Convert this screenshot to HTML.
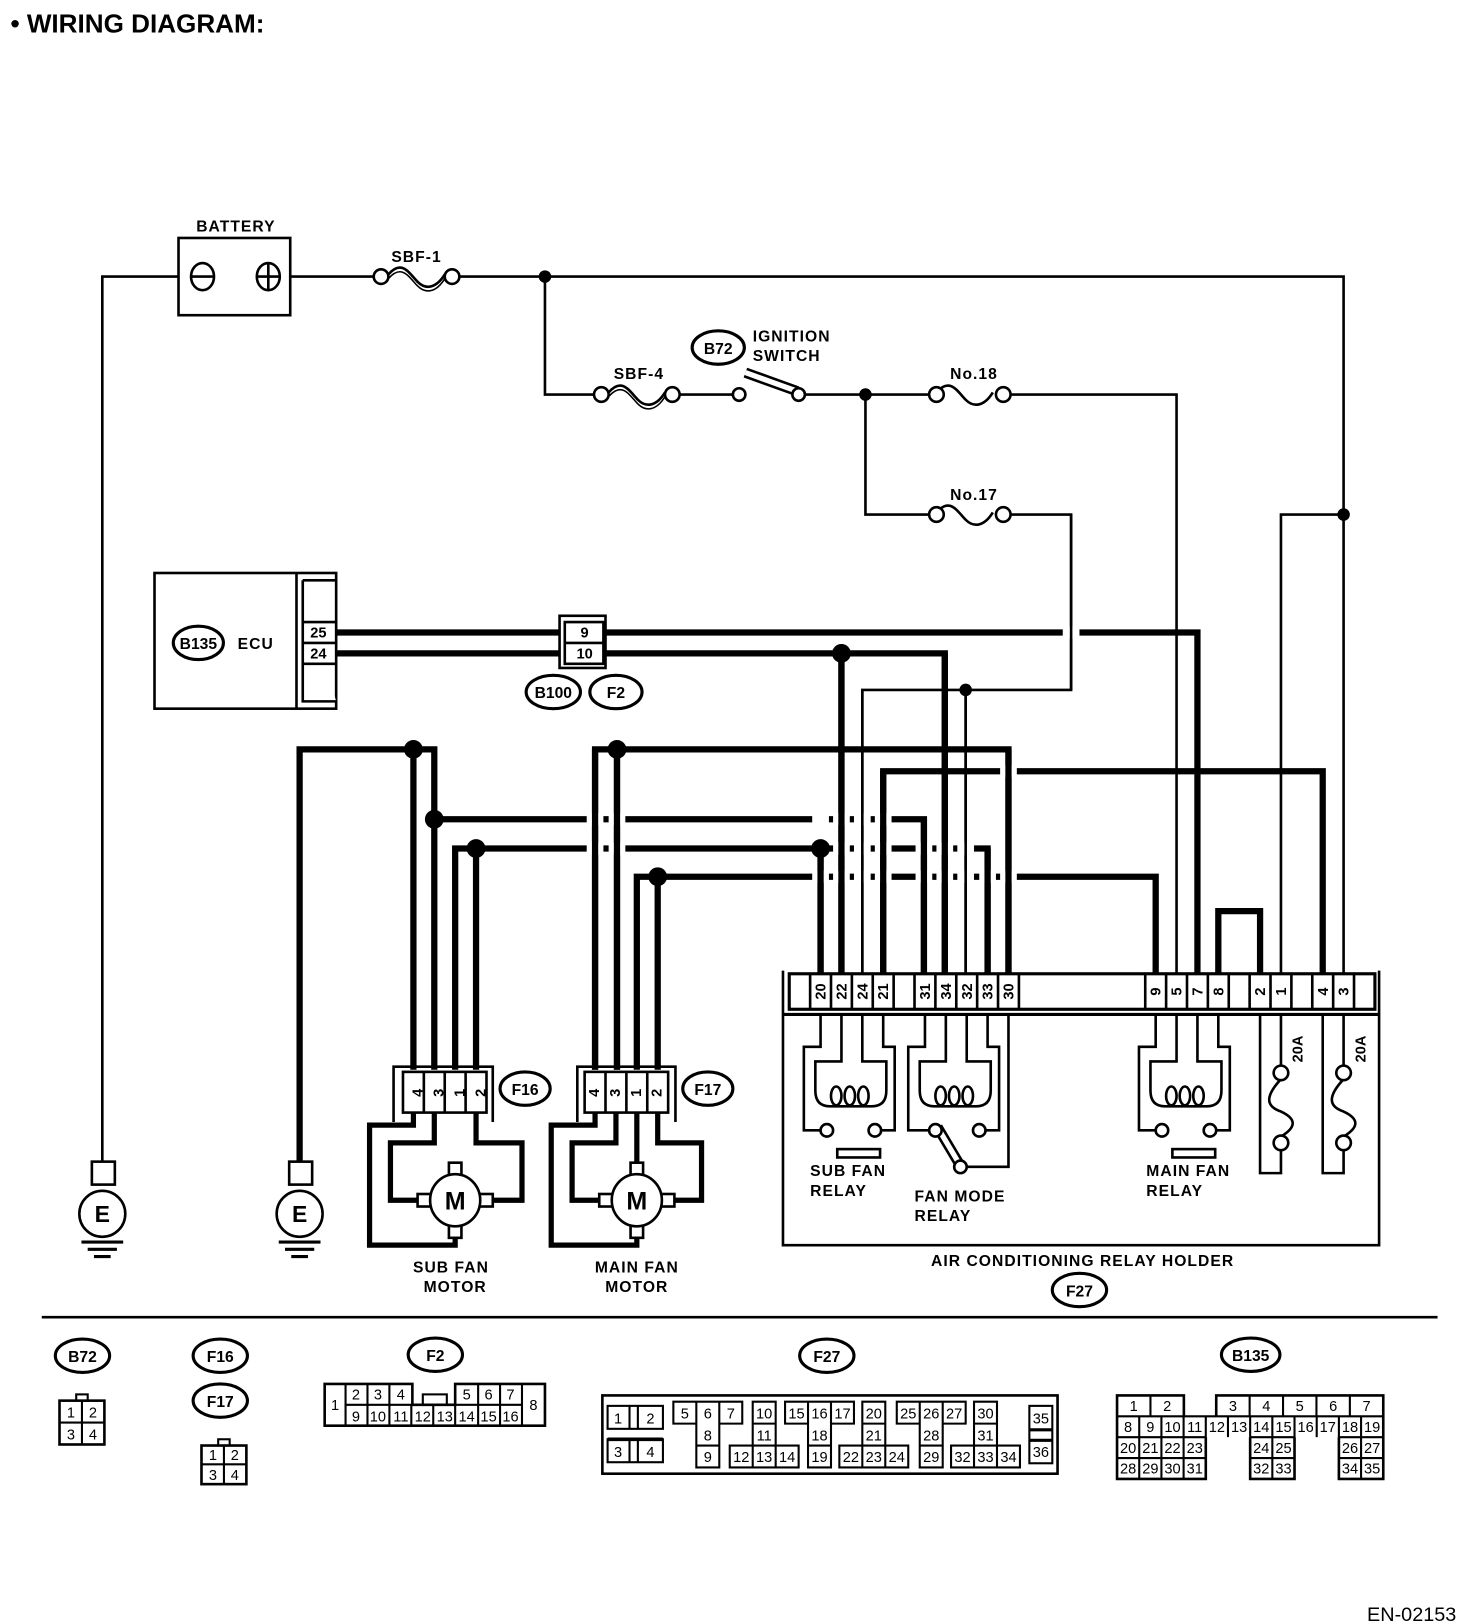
<!DOCTYPE html>
<html><head><meta charset="utf-8"><style>
html,body{margin:0;padding:0;background:#fff;}
svg{display:block;}
text{font-family:"Liberation Sans",sans-serif;fill:#000;}
.b{font-weight:bold;}
.lbl{font-weight:bold;font-size:15px;letter-spacing:1px;}
.pn{font-size:14px;font-weight:bold;}
.cn{font-size:14px;}
</style></head><body>
<svg width="1472" height="1624" viewBox="0 0 1410 1556" preserveAspectRatio="none" xmlns="http://www.w3.org/2000/svg">
<g fill="none" stroke="#000" stroke-linejoin="miter">
<g stroke-width="2.5">
<path d="M171 265 H98 V1113"/>
<path d="M278 265 H358 M440 265 H1287 V933"/>
<path d="M522 265 V378 H576 M651 378 H702 M771 378 H890 M968 378 H1127 V933"/>
<path d="M829 378 V493 H890 M968 493 H1026 V661 H826 V933 M925 661 V933"/>
<path d="M1287 493 H1227 V933"/>
</g>
<g stroke-width="6">
<path d="M322 606 H1147 V933"/>
<path d="M322 626 H905 V933 M806 626 V933"/>
<path d="M287 1113 V718 H416 V1025 M396 718 V1025"/>
<path d="M416 785 H885 V933"/>
<path d="M436 1025 V813 H946 V933 M456 813 V1025 M786 813 V933"/>
<path d="M570 1025 V718 H966 V933 M591 718 V1025"/>
<path d="M610 1025 V840 H1107 V933 M630 840 V1025"/>
<path d="M846 933 V739 H1267 V933"/>
<path d="M1167 933 V873 H1207 V933"/>
</g>
</g>
<g fill="#fff">
<rect x="1018" y="600" width="16" height="12"/>
<rect x="562" y="779" width="16" height="12"/><rect x="583" y="779" width="16" height="12"/>
<rect x="778" y="779" width="16" height="12"/><rect x="798" y="779" width="16" height="12"/><rect x="818" y="779" width="16" height="12"/><rect x="838" y="779" width="16" height="12"/>
<rect x="562" y="807" width="16" height="12"/><rect x="583" y="807" width="16" height="12"/>
<rect x="798" y="807" width="16" height="12"/><rect x="818" y="807" width="16" height="12"/><rect x="838" y="807" width="16" height="12"/><rect x="877" y="807" width="16" height="12"/><rect x="897" y="807" width="16" height="12"/><rect x="917" y="807" width="16" height="12"/>
<rect x="778" y="834" width="16" height="12"/><rect x="798" y="834" width="16" height="12"/><rect x="818" y="834" width="16" height="12"/><rect x="838" y="834" width="16" height="12"/><rect x="877" y="834" width="16" height="12"/><rect x="897" y="834" width="16" height="12"/><rect x="917" y="834" width="16" height="12"/><rect x="938" y="834" width="16" height="12"/><rect x="958" y="834" width="16" height="12"/>
<rect x="958" y="733" width="16" height="12"/>
</g>
<g fill="none" stroke="#000">
<path stroke-width="2.5" d="M1026 493 V661 M826 661 V933 M925 661 V933"/>
<path stroke-width="6" d="M570 718 V1025 M591 718 V1025 M786 813 V933 M806 626 V933 M846 739 V933 M885 785 V933 M905 626 V933 M946 813 V933 M966 718 V933"/>
</g>
<g fill="#000">
<circle cx="522" cy="265" r="6"/><circle cx="829" cy="378" r="6"/><circle cx="1287" cy="493" r="6"/><circle cx="925" cy="661" r="6"/>
<circle cx="806" cy="626" r="9"/><circle cx="396" cy="718" r="9"/><circle cx="416" cy="785" r="9"/><circle cx="456" cy="813" r="9"/><circle cx="786" cy="813" r="9"/><circle cx="591" cy="718" r="9"/><circle cx="630" cy="840" r="9"/>
</g>
<text x="10" y="31" class="b" font-size="25">•  WIRING DIAGRAM:</text>
<text x="1395" y="1553" text-anchor="end" font-size="19">EN-02153</text>
<g fill="none" stroke="#000" stroke-width="2.5">
<rect x="171" y="228" width="107" height="74"/>
<ellipse cx="194" cy="265" rx="11" ry="13"/><path d="M183 265 H205"/>
<ellipse cx="257" cy="265" rx="11" ry="13"/><path d="M246 265 H268 M257 252 V278"/>
</g>
<text x="226" y="222" text-anchor="middle" class="lbl" font-size="14">BATTERY</text>
<g fill="#fff" stroke="#000" stroke-width="2.5">
<path d="M372 263 C385 248 392 262 400 270 C408 278 418 276 426 263" fill="none"/>
<path d="M372 267 C385 252 392 266 400 274 C408 282 418 280 426 267" fill="none" stroke-width="1.5"/>
<circle cx="365" cy="265" r="7"/><circle cx="433" cy="265" r="7"/>
<path d="M583 376 C596 361 603 375 611 383 C619 391 629 389 637 376" fill="none"/>
<path d="M583 380 C596 365 603 379 611 387 C619 395 629 393 637 380" fill="none" stroke-width="1.5"/>
<circle cx="576" cy="378" r="7"/><circle cx="644" cy="378" r="7"/>
<path d="M897 376 C910 361 917 375 925 383 C933 391 943 389 951 376" fill="none"/>
<circle cx="897" cy="378" r="7"/><circle cx="961" cy="378" r="7"/>
<path d="M897 491 C910 476 917 490 925 498 C933 506 943 504 951 491" fill="none"/>
<circle cx="897" cy="493" r="7"/><circle cx="961" cy="493" r="7"/>
</g>
<line x1="714" y1="357" x2="764" y2="375" stroke="#000" stroke-width="10"/>
<line x1="714" y1="357" x2="764" y2="375" stroke="#fff" stroke-width="5"/>
<circle cx="708" cy="378" r="6" fill="#fff" stroke="#000" stroke-width="2.5"/>
<circle cx="765" cy="378" r="6" fill="#fff" stroke="#000" stroke-width="2.5"/>
<text x="399" y="251" text-anchor="middle" class="lbl">SBF-1</text>
<text x="612" y="363" text-anchor="middle" class="lbl">SBF-4</text>
<text x="933" y="363" text-anchor="middle" class="lbl">No.18</text>
<text x="933" y="479" text-anchor="middle" class="lbl">No.17</text>
<ellipse cx="688" cy="333" rx="25" ry="16" fill="none" stroke="#000" stroke-width="3"/>
<text x="688" y="339" text-anchor="middle" class="b" font-size="15">B72</text>
<text x="721" y="327" class="lbl">IGNITION</text>
<text x="721" y="346" class="lbl">SWITCH</text>
<g fill="#fff" stroke="#000" stroke-width="2.5">
<rect x="148" y="549" width="174" height="130"/>
<path d="M284 549 V679 M290 556 H322 M290 556 V672 H322 M290 596 H322 M290 616 H322 M290 636 H322"/>
<rect x="536" y="590" width="44" height="50" stroke-width="2.5"/>
<path d="M541 596 H578 V636 H541 Z M541 616 H578"/>
</g>
<text x="305" y="611" text-anchor="middle" class="pn">25</text>
<text x="305" y="631" text-anchor="middle" class="pn">24</text>
<text x="560" y="611" text-anchor="middle" class="pn">9</text>
<text x="560" y="631" text-anchor="middle" class="pn">10</text>
<ellipse cx="190" cy="616" rx="24" ry="16" fill="none" stroke="#000" stroke-width="3"/>
<text x="190" y="622" text-anchor="middle" class="b" font-size="15">B135</text>
<text x="245" y="622" text-anchor="middle" class="lbl">ECU</text>
<ellipse cx="530" cy="663" rx="26" ry="16" fill="none" stroke="#000" stroke-width="3"/>
<text x="530" y="669" text-anchor="middle" class="b" font-size="15">B100</text>
<ellipse cx="590" cy="663" rx="25" ry="16" fill="none" stroke="#000" stroke-width="3"/>
<text x="590" y="669" text-anchor="middle" class="b" font-size="15">F2</text>
<g fill="none" stroke="#000" stroke-width="2.5">
<rect x="88" y="1113" width="22" height="22"/><circle cx="98" cy="1163" r="22"/>
<path d="M78 1190 H118 M84 1197 H112 M90 1204 H106" stroke-width="3"/>
<rect x="277" y="1113" width="22" height="22"/><circle cx="287" cy="1163" r="22"/>
<path d="M267 1190 H307 M273 1197 H301 M279 1204 H295" stroke-width="3"/>
</g>
<text x="98" y="1171" text-anchor="middle" class="b" font-size="22">E</text>
<text x="287" y="1171" text-anchor="middle" class="b" font-size="22">E</text>
<g fill="#fff" stroke="#000" stroke-width="2.5">
<path d="M377 1075 V1022 H472 V1075" fill="none"/>
<rect x="386" y="1027" width="80" height="39"/><path d="M406 1027 V1066 M426 1027 V1066 M446 1027 V1066"/>
<path d="M553 1075 V1022 H647 V1075" fill="none"/>
<rect x="560" y="1027" width="80" height="39"/><path d="M580 1027 V1066 M600 1027 V1066 M620 1027 V1066"/>
</g>
<g class="pn">
<text transform="translate(401,1047) rotate(-90)" text-anchor="middle" dominant-baseline="central">4</text>
<text transform="translate(421,1047) rotate(-90)" text-anchor="middle" dominant-baseline="central">3</text>
<text transform="translate(441,1047) rotate(-90)" text-anchor="middle" dominant-baseline="central">1</text>
<text transform="translate(461,1047) rotate(-90)" text-anchor="middle" dominant-baseline="central">2</text>
<text transform="translate(570,1047) rotate(-90)" text-anchor="middle" dominant-baseline="central">4</text>
<text transform="translate(590,1047) rotate(-90)" text-anchor="middle" dominant-baseline="central">3</text>
<text transform="translate(610,1047) rotate(-90)" text-anchor="middle" dominant-baseline="central">1</text>
<text transform="translate(630,1047) rotate(-90)" text-anchor="middle" dominant-baseline="central">2</text>
</g>
<ellipse cx="503" cy="1043" rx="24" ry="16" fill="none" stroke="#000" stroke-width="3"/>
<text x="503" y="1049" text-anchor="middle" class="b" font-size="15">F16</text>
<ellipse cx="678" cy="1043" rx="24" ry="16" fill="none" stroke="#000" stroke-width="3"/>
<text x="678" y="1049" text-anchor="middle" class="b" font-size="15">F17</text>
<g fill="none" stroke="#000" stroke-width="5">
<path d="M416 1066 V1095 H374 V1150 H400 M456 1066 V1095 H500 V1150 H472 M396 1066 V1078 H354 V1193 H436 V1187"/>
<path d="M590 1066 V1095 H548 V1150 H574 M630 1066 V1095 H672 V1150 H646 M570 1066 V1078 H528 V1193 H610 V1187 M610 1066 V1115"/>
</g>
<g fill="#fff" stroke="#000" stroke-width="2.5">
<rect x="430" y="1114" width="12" height="13"/><rect x="430" y="1173" width="12" height="13"/><rect x="400" y="1144" width="13" height="12"/><rect x="459" y="1144" width="13" height="12"/>
<ellipse cx="436" cy="1150" rx="24" ry="25"/>
<rect x="604" y="1114" width="12" height="13"/><rect x="604" y="1173" width="12" height="13"/><rect x="574" y="1144" width="13" height="12"/><rect x="633" y="1144" width="13" height="12"/>
<ellipse cx="610" cy="1150" rx="24" ry="25"/>
</g>
<text x="436" y="1159" text-anchor="middle" class="b" font-size="24">M</text>
<text x="610" y="1159" text-anchor="middle" class="b" font-size="24">M</text>
<text x="432" y="1219" text-anchor="middle" class="lbl">SUB FAN</text>
<text x="436" y="1238" text-anchor="middle" class="lbl">MOTOR</text>
<text x="610" y="1219" text-anchor="middle" class="lbl">MAIN FAN</text>
<text x="610" y="1238" text-anchor="middle" class="lbl">MOTOR</text>
<g fill="none" stroke="#000" stroke-width="2.5">
<path d="M750 930 V1193 H1321 V930"/>
<path d="M750 972 H1321" stroke-width="3"/>
<rect x="756" y="933" width="561" height="34" stroke-width="3"/>
<path d="M776 933 V967 M796 933 V967 M816 933 V967 M836 933 V967 M856 933 V967 M876 933 V967 M896 933 V967 M916 933 V967 M936 933 V967 M956 933 V967 M976 933 V967"/>
<path d="M1097 933 V967 M1117 933 V967 M1137 933 V967 M1157 933 V967 M1177 933 V967 M1197 933 V967 M1217 933 V967 M1237 933 V967 M1257 933 V967 M1277 933 V967 M1297 933 V967"/>
</g>
<g class="pn">
<text transform="translate(787,950) rotate(-90)" text-anchor="middle" dominant-baseline="central">20</text>
<text transform="translate(807,950) rotate(-90)" text-anchor="middle" dominant-baseline="central">22</text>
<text transform="translate(827,950) rotate(-90)" text-anchor="middle" dominant-baseline="central">24</text>
<text transform="translate(847,950) rotate(-90)" text-anchor="middle" dominant-baseline="central">21</text>
<text transform="translate(887,950) rotate(-90)" text-anchor="middle" dominant-baseline="central">31</text>
<text transform="translate(907,950) rotate(-90)" text-anchor="middle" dominant-baseline="central">34</text>
<text transform="translate(927,950) rotate(-90)" text-anchor="middle" dominant-baseline="central">32</text>
<text transform="translate(947,950) rotate(-90)" text-anchor="middle" dominant-baseline="central">33</text>
<text transform="translate(967,950) rotate(-90)" text-anchor="middle" dominant-baseline="central">30</text>
<text transform="translate(1108,950) rotate(-90)" text-anchor="middle" dominant-baseline="central">9</text>
<text transform="translate(1128,950) rotate(-90)" text-anchor="middle" dominant-baseline="central">5</text>
<text transform="translate(1148,950) rotate(-90)" text-anchor="middle" dominant-baseline="central">7</text>
<text transform="translate(1168,950) rotate(-90)" text-anchor="middle" dominant-baseline="central">8</text>
<text transform="translate(1208,950) rotate(-90)" text-anchor="middle" dominant-baseline="central">2</text>
<text transform="translate(1228,950) rotate(-90)" text-anchor="middle" dominant-baseline="central">1</text>
<text transform="translate(1268,950) rotate(-90)" text-anchor="middle" dominant-baseline="central">4</text>
<text transform="translate(1288,950) rotate(-90)" text-anchor="middle" dominant-baseline="central">3</text>
</g>
<g fill="none" stroke="#000" stroke-width="2.5">
<path d="M786 972 V1003 H770 V1083 H786 M846 972 V1003 H857 V1083 H844"/>
<path d="M806 972 V1017 H781 V1045 Q781 1060 795 1060 H835 Q849 1060 849 1045 V1017 H826 V972"/>
<ellipse cx="801" cy="1050" rx="5" ry="9"/><ellipse cx="814" cy="1050" rx="5" ry="9"/><ellipse cx="827" cy="1050" rx="5" ry="9"/>
<rect x="802" y="1101" width="41" height="8"/>
<path d="M886 972 V1003 H870 V1083 H890 M946 972 V1003 H957 V1083 H944 M966 972 V1118 H926"/>
<path d="M906 972 V1017 H881 V1045 Q881 1060 895 1060 H935 Q949 1060 949 1045 V1017 H926 V972"/>
<ellipse cx="901" cy="1050" rx="5" ry="9"/><ellipse cx="914" cy="1050" rx="5" ry="9"/><ellipse cx="927" cy="1050" rx="5" ry="9"/>
<path d="M1107 972 V1003 H1091 V1083 H1107 M1167 972 V1003 H1178 V1083 H1165"/>
<path d="M1127 972 V1017 H1102 V1045 Q1102 1060 1116 1060 H1156 Q1170 1060 1170 1045 V1017 H1147 V972"/>
<ellipse cx="1122" cy="1050" rx="5" ry="9"/><ellipse cx="1135" cy="1050" rx="5" ry="9"/><ellipse cx="1148" cy="1050" rx="5" ry="9"/>
<rect x="1123" y="1101" width="41" height="8"/>
<path d="M1207 972 V1124 H1227 V1101 M1227 1034 C1212 1050 1212 1060 1227 1065 C1242 1072 1242 1080 1227 1089 M1227 1022 V972"/>
<path d="M1267 972 V1124 H1287 V1101 M1287 1034 C1272 1050 1272 1060 1287 1065 C1302 1072 1302 1080 1287 1089 M1287 1022 V972"/>
</g>
<line x1="898" y1="1080" x2="920" y2="1117" stroke="#000" stroke-width="10"/>
<line x1="898" y1="1080" x2="920" y2="1117" stroke="#fff" stroke-width="5"/>
<g fill="#fff" stroke="#000" stroke-width="2.5">
<circle cx="792" cy="1083" r="6"/><circle cx="838" cy="1083" r="6"/>
<circle cx="896" cy="1083" r="6"/><circle cx="938" cy="1083" r="6"/><circle cx="920" cy="1118" r="6"/>
<circle cx="1113" cy="1083" r="6"/><circle cx="1159" cy="1083" r="6"/>
<circle cx="1227" cy="1028" r="7"/><circle cx="1227" cy="1095" r="7"/>
<circle cx="1287" cy="1028" r="7"/><circle cx="1287" cy="1095" r="7"/>
</g>
<text transform="translate(1244,1005) rotate(-90)" text-anchor="middle" class="b" font-size="14" dominant-baseline="central">20A</text>
<text transform="translate(1304,1005) rotate(-90)" text-anchor="middle" class="b" font-size="14" dominant-baseline="central">20A</text>
<text x="776" y="1127" class="lbl">SUB FAN</text>
<text x="776" y="1146" class="lbl">RELAY</text>
<text x="876" y="1151" class="lbl">FAN MODE</text>
<text x="876" y="1170" class="lbl">RELAY</text>
<text x="1098" y="1127" class="lbl">MAIN FAN</text>
<text x="1098" y="1146" class="lbl">RELAY</text>
<text x="1037" y="1213" text-anchor="middle" class="lbl">AIR CONDITIONING RELAY HOLDER</text>
<ellipse cx="1034" cy="1236" rx="26" ry="16" fill="none" stroke="#000" stroke-width="3"/>
<text x="1034" y="1242" text-anchor="middle" class="b" font-size="15">F27</text>
<line x1="40" y1="1262" x2="1377" y2="1262" stroke="#000" stroke-width="2.5"/>
<g fill="none" stroke="#000" stroke-width="3">
<ellipse cx="79" cy="1299" rx="26" ry="16"/><ellipse cx="211" cy="1299" rx="26" ry="16"/><ellipse cx="211" cy="1342" rx="26" ry="16"/>
<ellipse cx="417" cy="1298" rx="26" ry="16"/><ellipse cx="792" cy="1299" rx="26" ry="16"/><ellipse cx="1198" cy="1298" rx="28" ry="16"/>
</g>
<g class="b" font-size="15" text-anchor="middle">
<text x="79" y="1305">B72</text><text x="211" y="1305">F16</text><text x="211" y="1348">F17</text>
<text x="417" y="1304">F2</text><text x="792" y="1305">F27</text><text x="1198" y="1304">B135</text>
</g>
<g fill="none" stroke="#000" stroke-width="2">
<rect x="73" y="1336" width="11" height="6"/><rect x="57" y="1342" width="43" height="42" stroke-width="2.5"/><path d="M78.5 1342 V1384 M57 1363 H100"/>
<rect x="209" y="1379" width="11" height="6"/><rect x="193" y="1385" width="43" height="37" stroke-width="2.5"/><path d="M214.5 1385 V1422 M193 1403 H236"/>
</g>
<g class="cn" text-anchor="middle">
<text x="68" y="1358">1</text><text x="89" y="1358">2</text><text x="68" y="1379">3</text><text x="89" y="1379">4</text>
<text x="204" y="1399">1</text><text x="225" y="1399">2</text><text x="204" y="1418">3</text><text x="225" y="1418">4</text>
</g>
<g fill="none" stroke="#000" stroke-width="2">
<path d="M311 1326 H395 V1346 H436 V1326 H522 V1366 H311 Z" stroke-width="2.5"/>
<path d="M331 1326 V1366 M500 1326 V1366 M331 1346 H395 M436 1346 H500 M352 1326 V1366 M373 1326 V1366 M394 1346 V1366 M415 1346 V1366 M436 1346 V1366 M458 1326 V1366 M479 1326 V1366"/>
<rect x="405" y="1336" width="23" height="10"/>
</g>
<g class="cn" text-anchor="middle">
<text x="321" y="1351">1</text><text x="511" y="1351">8</text>
<text x="341" y="1341">2</text><text x="362" y="1341">3</text><text x="384" y="1341">4</text><text x="447" y="1341">5</text><text x="468" y="1341">6</text><text x="489" y="1341">7</text>
<text x="341" y="1362">9</text><text x="362" y="1362">10</text><text x="384" y="1362">11</text><text x="405" y="1362">12</text><text x="426" y="1362">13</text><text x="447" y="1362">14</text><text x="468" y="1362">15</text><text x="489" y="1362">16</text>
</g>
<g fill="none" stroke="#000" stroke-width="2">
<rect x="577" y="1337" width="436" height="75" stroke-width="2.5"/>
<rect x="582" y="1347" width="53" height="22"/><path d="M603 1347 V1369 M611 1347 V1369"/>
<rect x="582" y="1379" width="53" height="22"/><path d="M603 1379 V1401 M611 1379 V1401"/><path d="M582 1379 H635" stroke-width="3.5"/>
<path d="M645 1343 H711 V1364 H689 V1406 H667 V1364 H645 Z M667 1343 V1364 M689 1343 V1364 M667 1385 H689"/>
<path d="M721 1343 H743 V1385 H765 V1406 H699 V1385 H721 Z M721 1364 H743 M721 1385 H743 M721 1385 V1406 M743 1385 V1406"/>
<path d="M752 1343 H818 V1364 H796 V1406 H774 V1364 H752 Z M774 1343 V1364 M796 1343 V1364 M774 1385 H796"/>
<path d="M826 1343 H848 V1385 H870 V1406 H804 V1385 H826 Z M826 1364 H848 M826 1385 H848 M826 1385 V1406 M848 1385 V1406"/>
<path d="M859 1343 H925 V1364 H903 V1406 H881 V1364 H859 Z M881 1343 V1364 M903 1343 V1364 M881 1385 H903"/>
<path d="M933 1343 H955 V1385 H977 V1406 H911 V1385 H933 Z M933 1364 H955 M933 1385 H955 M933 1385 V1406 M955 1385 V1406"/>
<rect x="986" y="1347" width="22" height="55"/><path d="M986 1370 H1008 M986 1380 H1008" stroke-width="3"/>
</g>
<g class="cn" text-anchor="middle">
<text x="592" y="1364">1</text><text x="623" y="1364">2</text><text x="592" y="1396">3</text><text x="623" y="1396">4</text>
<text x="656" y="1359">5</text><text x="678" y="1359">6</text><text x="700" y="1359">7</text><text x="678" y="1380">8</text><text x="678" y="1401">9</text>
<text x="732" y="1359">10</text><text x="732" y="1380">11</text><text x="710" y="1401">12</text><text x="732" y="1401">13</text><text x="754" y="1401">14</text>
<text x="763" y="1359">15</text><text x="785" y="1359">16</text><text x="807" y="1359">17</text><text x="785" y="1380">18</text><text x="785" y="1401">19</text>
<text x="837" y="1359">20</text><text x="837" y="1380">21</text><text x="815" y="1401">22</text><text x="837" y="1401">23</text><text x="859" y="1401">24</text>
<text x="870" y="1359">25</text><text x="892" y="1359">26</text><text x="914" y="1359">27</text><text x="892" y="1380">28</text><text x="892" y="1401">29</text>
<text x="944" y="1359">30</text><text x="944" y="1380">31</text><text x="922" y="1401">32</text><text x="944" y="1401">33</text><text x="966" y="1401">34</text>
<text x="997" y="1364">35</text><text x="997" y="1396">36</text>
</g>
<g fill="none" stroke="#000" stroke-width="2">
<path d="M1070 1357 V1337 H1134 V1357 M1165 1357 V1337 H1325 V1417 H1282.5 V1377 M1240 1377 V1417 H1197.5 V1377 M1155 1377 V1417 H1070 V1357" stroke-width="2.5"/>
<path d="M1070 1357 H1325 M1070 1377 H1155 M1197.5 1377 H1240 M1282.5 1377 H1325 M1070 1397 H1155 M1197.5 1397 H1240 M1282.5 1397 H1325"/>
<path d="M1102 1337 V1357 M1197 1337 V1357 M1229 1337 V1357 M1261 1337 V1357 M1293 1337 V1357"/>
<path d="M1091.25 1357 V1377 M1112.5 1357 V1377 M1133.75 1357 V1377 M1155 1357 V1377 M1176.25 1357 V1377 M1197.5 1357 V1377 M1218.75 1357 V1377 M1240 1357 V1377 M1261.25 1357 V1377 M1282.5 1357 V1377 M1303.75 1357 V1377"/>
<path d="M1091.25 1377 V1417 M1112.5 1377 V1417 M1133.75 1377 V1417 M1218.75 1377 V1417 M1303.75 1377 V1417"/>
</g>
<g class="cn" text-anchor="middle">
<text x="1086" y="1352">1</text><text x="1118" y="1352">2</text><text x="1181" y="1352">3</text><text x="1213" y="1352">4</text><text x="1245" y="1352">5</text><text x="1277" y="1352">6</text><text x="1309" y="1352">7</text>
<text x="1080.6" y="1372">8</text><text x="1101.9" y="1372">9</text><text x="1123.1" y="1372">10</text><text x="1144.4" y="1372">11</text><text x="1165.6" y="1372">12</text><text x="1186.9" y="1372">13</text><text x="1208.1" y="1372">14</text><text x="1229.4" y="1372">15</text><text x="1250.6" y="1372">16</text><text x="1271.9" y="1372">17</text><text x="1293.1" y="1372">18</text><text x="1314.4" y="1372">19</text>
<text x="1080.6" y="1392">20</text><text x="1101.9" y="1392">21</text><text x="1123.1" y="1392">22</text><text x="1144.4" y="1392">23</text><text x="1208.1" y="1392">24</text><text x="1229.4" y="1392">25</text><text x="1293.1" y="1392">26</text><text x="1314.4" y="1392">27</text>
<text x="1080.6" y="1412">28</text><text x="1101.9" y="1412">29</text><text x="1123.1" y="1412">30</text><text x="1144.4" y="1412">31</text><text x="1208.1" y="1412">32</text><text x="1229.4" y="1412">33</text><text x="1293.1" y="1412">34</text><text x="1314.4" y="1412">35</text>
</g>
</svg>
</body></html>
